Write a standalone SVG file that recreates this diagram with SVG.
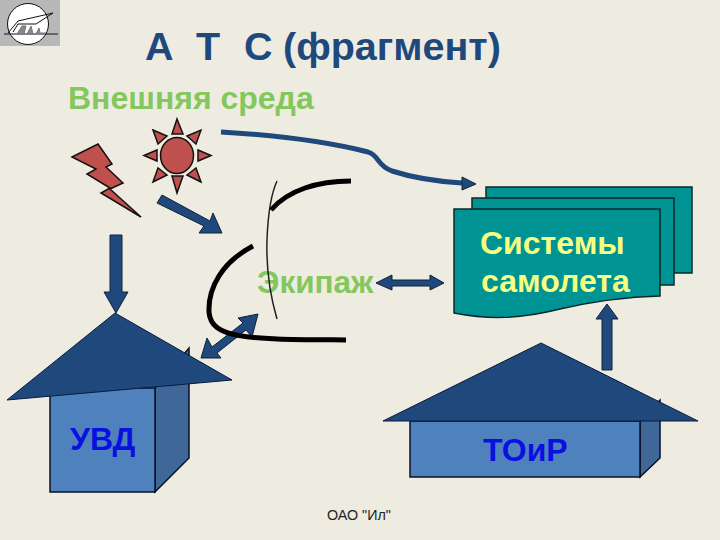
<svg xmlns="http://www.w3.org/2000/svg" width="720" height="540" viewBox="0 0 720 540">
<style>
text{font-family:"Liberation Sans",Arial,sans-serif}
.ttl{font-weight:bold;font-size:39.500px;fill:#1f497d}
.grn{fill:#84c75c;font-weight:bold;font-size:32px}
.blu{fill:#0a10e0;font-weight:bold;font-size:32px}
.yel{fill:#f8ff80;font-weight:bold;font-size:32px}
.arrow{fill:#1f497d;stroke:#10203a;stroke-width:1}
.red{fill:#c0504d;stroke:#111;stroke-width:1.5}
.teal{fill:#009393;stroke:#0a2a2a;stroke-width:1.5}
.front{fill:#4f81bd;stroke:#0a0f2a;stroke-width:1.5}
.side{fill:#3f6797;stroke:#0a0f2a;stroke-width:1.5}
.roof{fill:#1f497d;stroke:#0a1a3a;stroke-width:1}
</style>
<rect width="720" height="540" fill="#eeece1"/>
<g id="logo">
<rect width="60" height="46" fill="#b8b8b8"/>
<circle cx="28" cy="24" r="20.500" fill="#fff" stroke="#111" stroke-width="1"/>
<path d="M4 34H58M8 33L18 21L53 13L36 24L18 24L13 32" fill="none" stroke="#111" stroke-width="1"/>
<path d="M17 34L22 26H26L24 34ZM27 34L31 26L33 34ZM36 34L39 28L40 33L46 33" fill="#888" stroke="#777" stroke-width="1"/>
</g>
<g id="title"><text class="ttl" x="145" y="60">А</text><text class="ttl" x="196" y="60">Т</text><text class="ttl" x="244" y="60">С</text><text class="ttl" x="283" y="60">(фрагмент)</text></g>
<g id="env"><text class="grn" x="68" y="109">Внешняя среда</text></g>
<g id="sun">
<ellipse cx="177" cy="155.500" rx="16.500" ry="18" class="red"/>
<path class="red" d="M177 119L183 134H172ZM177 193L172 176H183ZM144 155.500L157 150V161ZM211 155.500L198 161V150ZM153 130L167 136L158 144ZM201 130L196 144L187 136ZM153 182L158 168L167 175ZM201 182L187 175L196 168Z"/>
</g>
<g id="bolt"><path class="red" d="M72 157L98 144L112 164L106 167L123 183L110 189L141 217L101 193L110 188L87 174L96 169Z"/></g>
<g id="crew">
<text class="grn" x="257" y="293" font-size="31.500" style="font-size:31.500px">Экипаж</text>
<path d="M277 181C272 192 268 212 267 240C266 270 270 295 277 319" fill="none" stroke="#222" stroke-width="1.500"/>
<path d="M271 210C288 190 318 181 351 181" fill="none" stroke="#000" stroke-width="5"/>
</g>
<g id="systems">
<path class="teal" d="M486 187H692V273H486Z"/>
<path class="teal" d="M472 198H674V285H472Z"/>
<path class="teal" d="M454 209H660V296C620 297 590 302 560 309C520 319 490 320 454 313Z"/>
<text class="yel" x="480" y="254">Системы</text>
<text class="yel" x="481" y="292">самолета</text>
</g>
<g id="uvd">
<path class="side" d="M155 388L189 348V458L155 492Z"/>
<path class="front" d="M50 388H155V492H50Z"/>
<path class="roof" d="M115 313L232 380L7 400Z"/>
<text class="blu" x="70" y="450">УВД</text>
</g>
<g id="toir">
<path class="side" d="M640 421L660 400V458L640 477Z"/>
<path class="front" d="M410 421H640V477H410Z"/>
<path class="roof" d="M541 343L698 421H383Z"/>
<text class="blu" x="483" y="461">ТОиР</text>
</g>
<g id="connectors">
<path d="M221 132C290 136 340 145 368 152C380 156 376 165 392 171C420 180 445 182 462 183" fill="none" stroke="#1f497d" stroke-width="5"/>
<path class="arrow" d="M462 177L476 184L462 190Z"/>
<path class="arrow" d="M162 195L210 221L213 213L222 233L199 233L204 226L157 203Z"/>
<path class="arrow" d="M110 235H122V292H128L116 313L104 292H110Z"/>
<path class="arrow" d="M376 283L392 275V280H430V275L444 283L430 290V286H392V290Z"/>
<path class="arrow" d="M201 358L207 338L212 347L243 323L238 318L258 314L252 337L246 330L217 353L221 358Z"/>
<path class="arrow" d="M602 370V319H596L607 304L618 319H612V370Z"/>
<path d="M253 246C222 262 208 288 209 312C211 340 250 339 346 340" fill="none" stroke="#000" stroke-width="5"/>
</g>
<g id="footer"><text x="327" y="520" font-size="14.300" fill="#222">ОАО "Ил"</text></g>
</svg>
